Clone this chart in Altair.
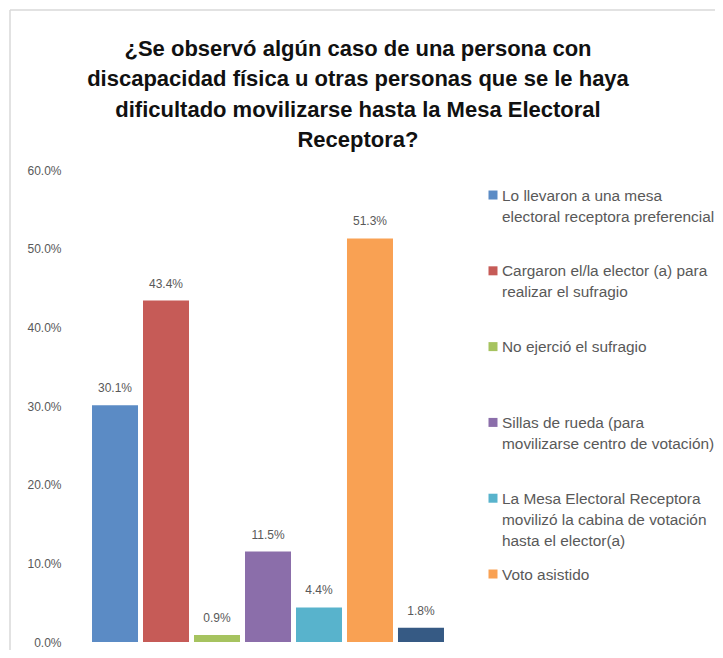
import altair as alt
import pandas as pd

categories = [
    "Lo llevaron a una mesa electoral receptora preferencial",
    "Cargaron el/la elector (a) para realizar el sufragio",
    "No ejerció el sufragio",
    "Sillas de rueda (para movilizarse centro de votación)",
    "La Mesa Electoral Receptora movilizó la cabina de votación hasta el elector(a)",
    "Voto asistido",
    "Otro",
]
values = [30.1, 43.4, 0.9, 11.5, 4.4, 51.3, 1.8]
colors = ["#5B8BC5", "#C65B57", "#A6C35F", "#8B6EAA", "#58B3CC", "#F9A153", "#365A84"]
legend_lines = [
    ["Lo llevaron a una mesa", "electoral receptora preferencial"],
    ["Cargaron el/la elector (a) para", "realizar el sufragio"],
    ["No ejerció el sufragio"],
    ["Sillas de rueda (para", "movilizarse centro de votación)"],
    ["La Mesa Electoral Receptora", "movilizó la cabina de votación", "hasta el elector(a)"],
    ["Voto asistido"],
]
title_lines = [
    "¿Se observó algún caso de una persona con",
    "discapacidad física u otras personas que se le haya",
    "dificultado movilizarse hasta la Mesa Electoral",
    "Receptora?",
]
y_ticks = [0, 10, 20, 30, 40, 50, 60]

FONT = "Liberation Sans, Arial, sans-serif"
GRAY = "#595959"

df = pd.DataFrame({"categoria": categories, "valor": values})
legend_df = pd.DataFrame({
    "categoria": categories[:6],
    "texto": ["|".join(lines) for lines in legend_lines],
})

color_scale = alt.Scale(domain=categories, range=colors)

x_enc = alt.X("categoria:N", sort=categories, axis=None,
              scale=alt.Scale(paddingInner=0.098, paddingOuter=0.51))
y_enc = alt.Y("valor:Q", scale=alt.Scale(domain=[0, 60], nice=False),
              axis=alt.Axis(values=y_ticks, labelExpr="format(datum.value, '.1f') + '%'",
                            grid=False, domain=False, ticks=False, tickSize=0,
                            labelPadding=5, title=None, labelFont=FONT,
                            labelFontSize=12, labelColor=GRAY))

bars = alt.Chart(df).mark_bar().encode(
    x=x_enc,
    y=y_enc,
    color=alt.Color("categoria:N", scale=color_scale, legend=None),
)

text = alt.Chart(df).transform_calculate(
    etiqueta="format(datum.valor, '.1f') + '%'"
).mark_text(dy=-17, baseline="middle", font=FONT, fontSize=12, color=GRAY).encode(
    x=x_enc,
    y=alt.Y("valor:Q"),
    text="etiqueta:N",
)

main = alt.layer(bars, text)

leg_y = alt.Y("categoria:N", sort=categories[:6], axis=None,
              scale=alt.Scale(type="point", padding=0.6135, align=0.269))
leg_sq = alt.Chart(legend_df).mark_square(size=81, opacity=1).encode(
    x=alt.value(427),
    y=leg_y,
    color=alt.Color("categoria:N", scale=color_scale, legend=None),
)
leg_txt = alt.Chart(legend_df).mark_text(
    align="left", baseline="top", dy=-6.4, font=FONT, fontSize=15.4,
    color=GRAY, lineBreak="|", lineHeight=21,
).encode(
    x=alt.value(436),
    y=leg_y,
    text="texto:N",
)
legend = alt.layer(leg_sq, leg_txt)

frame_df = pd.DataFrame({"k": [0]})
frame_left = alt.Chart(frame_df).mark_rule(color="#D9D9D9", strokeWidth=1.5).encode(
    x=alt.value(-56), y=alt.value(-160), y2=alt.value(480))
frame_top = alt.Chart(frame_df).mark_rule(color="#D9D9D9", strokeWidth=1.5).encode(
    y=alt.value(-160), x=alt.value(-56), x2=alt.value(660))

chart = alt.layer(frame_left, frame_top, main, legend).resolve_scale(
    y="independent"
).properties(
    width=404,
    height=472,
    title=alt.TitleParams(text=title_lines, anchor="middle", font=FONT, fontSize=22,
                          fontWeight="bold", color="#111111", lineHeight=30.5,
                          dx=90, dy=143, offset=0),
    autosize=alt.AutoSizeParams(type="none"),
    padding={"left": 58, "top": 162, "right": 245, "bottom": 8},
).configure_view(stroke=None)

chart.save("out.html", embed_options={"renderer": "svg", "actions": False})
